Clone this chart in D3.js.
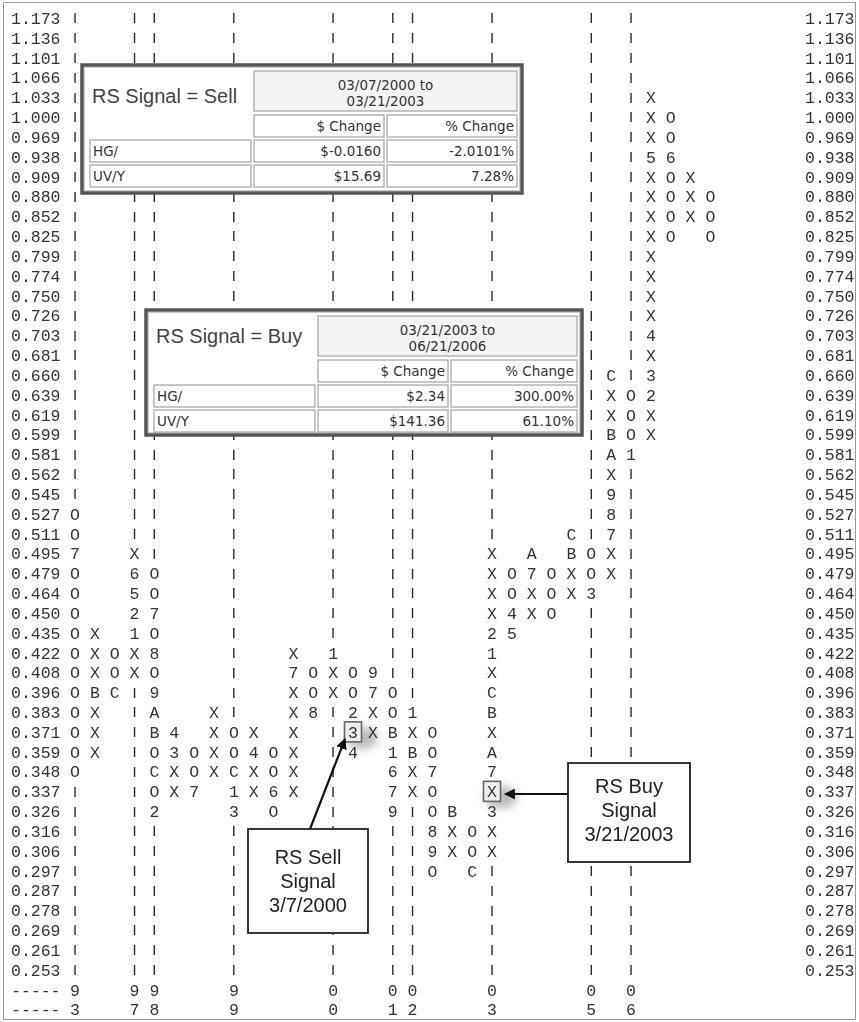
<!DOCTYPE html>
<html>
<head>
<meta charset="utf-8">
<style>
  body { margin: 0; background: #fff; }
  #graph { filter: grayscale(100%); }
  svg text { font-family: "Liberation Mono", "Courier New", monospace; fill: #333; }
  .tbl text { font-family: "DejaVu Sans", Verdana, sans-serif; fill: #333; font-size: 13.5px; }
  .tbl text.title { font-family: "Liberation Sans", Arial, sans-serif; font-size: 20px; fill: #444; }
  .call text { font-family: "Liberation Sans", Arial, sans-serif; font-size: 20px; fill: #222; }
</style>
</head>
<body>
<svg id="graph"></svg>
<script src="https://cdn.jsdelivr.net/npm/d3@7/dist/d3.min.js"></script>
<script>

// price boxes, top to bottom
var prices = ["1.173","1.136","1.101","1.066","1.033","1.000","0.969","0.938","0.909","0.880",
  "0.852","0.825","0.799","0.774","0.750","0.726","0.703","0.681","0.660","0.639",
  "0.619","0.599","0.581","0.562","0.545","0.527","0.511","0.495","0.479","0.464",
  "0.450","0.435","0.422","0.408","0.396","0.383","0.371","0.359","0.348","0.337",
  "0.326","0.316","0.306","0.297","0.287","0.278","0.269","0.261","0.253"];

// columns of the point & figure chart: first box and the marks going down
var columns = [
  {col: 0,  top: "0.527", marks: "OO7OOOOOOOOOOO"},
  {col: 1,  top: "0.435", marks: "XXXBXXX"},
  {col: 2,  top: "0.422", marks: "OOC"},
  {col: 3,  top: "0.495", marks: "X6521XX"},
  {col: 4,  top: "0.479", marks: "OO7O8O9ABOCO2"},
  {col: 5,  top: "0.371", marks: "43XX"},
  {col: 6,  top: "0.359", marks: "OO7"},
  {col: 7,  top: "0.383", marks: "XXXX"},
  {col: 8,  top: "0.371", marks: "OOC13"},
  {col: 9,  top: "0.371", marks: "X4XX"},
  {col: 10, top: "0.359", marks: "OO6O"},
  {col: 11, top: "0.422", marks: "X7XXXXXX"},
  {col: 12, top: "0.408", marks: "OO8"},
  {col: 13, top: "0.422", marks: "1XX"},
  {col: 14, top: "0.408", marks: "OO234"},
  {col: 15, top: "0.408", marks: "97XX"},
  {col: 16, top: "0.396", marks: "OOB1679"},
  {col: 17, top: "0.383", marks: "1XBXX"},
  {col: 18, top: "0.371", marks: "OO7OO89O"},
  {col: 19, top: "0.326", marks: "BXX"},
  {col: 20, top: "0.316", marks: "OOC"},
  {col: 21, top: "0.495", marks: "XXXX21XCBXA7X3XX"},
  {col: 22, top: "0.479", marks: "OO45"},
  {col: 23, top: "0.495", marks: "A7XX"},
  {col: 24, top: "0.479", marks: "OOO"},
  {col: 25, top: "0.511", marks: "CBXX"},
  {col: 26, top: "0.495", marks: "OO3"},
  {col: 27, top: "0.660", marks: "CXXBAX987XX"},
  {col: 28, top: "0.639", marks: "OOO1"},
  {col: 29, top: "1.033", marks: "XXX5XXXXXXXX4X32XX"},
  {col: 30, top: "1.000", marks: "OO6OOOO"},
  {col: 31, top: "0.909", marks: "XXX"},
  {col: 32, top: "0.880", marks: "OOO"}
];

// columns where a new year starts, with the two year digits
var yearCols   = [0, 3, 4, 8, 13, 16, 17, 21, 26, 28];
var yearTens   = ["9","9","9","9","0","0","0","0","0","0"];
var yearUnits  = ["3","7","8","9","0","1","2","3","5","6"];

// relative strength signal boxes
var signals = [{col: 14, price: "0.371"}, {col: 21, price: "0.337"}];

// signal tables
var sellTitle  = "RS Signal = Sell";
var sellPeriod = ["03/07/2000 to", "03/21/2003"];
var sellRows   = [["HG/", "$-0.0160", "-2.0101%"], ["UV/Y", "$15.69", "7.28%"]];
var buyTitle   = "RS Signal = Buy";
var buyPeriod  = ["03/21/2003 to", "06/21/2006"];
var buyRows    = [["HG/", "$2.34", "300.00%"], ["UV/Y", "$141.36", "61.10%"]];
var changeHeads = ["$ Change", "% Change"];

var sellNote = ["RS Sell", "Signal", "3/7/2000"];
var buyNote  = ["RS Buy", "Signal", "3/21/2003"];

var W = 859, H = 1022;
var svg = d3.select('#graph').attr('width', W).attr('height', H);

var defs = svg.append('defs');
var blur = defs.append('filter').attr('id', 'glow').attr('x', '-100%').attr('y', '-100%').attr('width', '300%').attr('height', '300%');
blur.append('feGaussianBlur').attr('stdDeviation', 4);
var arrow = defs.append('marker')
	.attr('id', 'head').attr('viewBox', '0 0 10 10')
	.attr('refX', 9).attr('refY', 5)
	.attr('markerWidth', 5).attr('markerHeight', 5)
	.attr('markerUnits', 'strokeWidth')
	.attr('orient', 'auto');
arrow.append('path').attr('d', 'M0,0 L10,5 L0,10 Z').attr('fill', '#111');

var rows = prices.concat(["yr1", "yr2"]);
var x = d3.scaleLinear().domain([0, 28]).range([75, 631]);
var y = d3.scalePoint().domain(rows).range([18, 1009.5]);

// outer frame
svg.append('rect')
	.attr('x', 3.5).attr('y', 2.5).attr('width', 852).attr('height', 1017)
	.attr('fill', 'none').attr('stroke', '#999').attr('stroke-width', 1);

// price labels both sides
svg.append('g').selectAll('text').data(prices).enter().append('text')
	.attr('x', 11).attr('y', d => y(d)).attr('dy', '0.36em')
	.style('font-size', '16.5px')
	.text(d => d);
svg.append('g').selectAll('text').data(prices).enter().append('text')
	.attr('x', 805).attr('y', d => y(d)).attr('dy', '0.36em')
	.style('font-size', '16.5px')
	.text(d => d);

// cells
var cells = [];
columns.forEach(function(c) {
	var start = prices.indexOf(c.top);
	c.marks.split('').forEach(function(m, i) {
		cells.push({col: c.col, price: prices[start + i], mark: m});
	});
});
var filled = new Set(cells.map(d => d.col + ':' + d.price));
var bars = [];
yearCols.forEach(function(col) {
	prices.forEach(function(p) {
		if (!filled.has(col + ':' + p)) bars.push({col: col, price: p});
	});
});

// signal box highlights
var sig = svg.append('g').selectAll('g').data(signals).enter().append('g')
	.attr('transform', d => 'translate(' + x(d.col) + ',' + y(d.price) + ')');
sig.append('ellipse')
	.attr('cx', 9).attr('cy', 6).attr('rx', 16).attr('ry', 11)
	.attr('fill', '#bbb').attr('filter', 'url(#glow)');
sig.append('rect')
	.attr('x', -8.5).attr('y', -10).attr('width', 17).attr('height', 20)
	.attr('fill', '#eee').attr('stroke', '#666').attr('stroke-width', 1.6);

// year separators: a bar in every empty box of a year column
svg.append('g').selectAll('text').data(bars).enter().append('text')
	.attr('x', d => x(d.col)).attr('y', d => y(d.price)).attr('dy', '0.3em')
	.attr('text-anchor', 'middle')
	.style('font-size', '11px').style('font-weight', 'bold').style('fill', '#2a2a2a')
	.text('|');

svg.append('g').selectAll('text').data(cells).enter().append('text')
	.attr('x', d => x(d.col)).attr('y', d => y(d.price)).attr('dy', '0.36em')
	.attr('text-anchor', 'middle')
	.style('font-size', '16.5px')
	.text(d => d.mark);

// year rows
["yr1", "yr2"].forEach(function(r, k) {
	var g = svg.append('g');
	g.append('text').attr('x', 11).attr('y', y(r)).attr('dy', '0.36em')
		.style('font-size', '16.5px').text('-----');
	g.selectAll('text.yr').data(yearCols).enter().append('text')
		.attr('class', 'yr')
		.attr('x', d => x(d)).attr('y', y(r)).attr('dy', '0.36em')
		.attr('text-anchor', 'middle').style('font-size', '16.5px')
		.text((d, i) => (k == 0 ? yearTens : yearUnits)[i]);
});

// signal tables
function table(ox, oy, w, h, titleY, title, period, data) {
	var g = svg.append('g').attr('class', 'tbl').attr('transform', 'translate(' + ox + ',' + oy + ')');
	g.append('rect').attr('width', w).attr('height', h)
		.attr('fill', '#fff').attr('stroke', '#555').attr('stroke-width', 3.5);
	g.append('rect').attr('x', 2.5).attr('y', 2.5).attr('width', w - 5).attr('height', h - 5)
		.attr('fill', 'none').attr('stroke', '#ccc').attr('stroke-width', 1);
	g.append('text').attr('class', 'title').attr('x', 10).attr('y', titleY).text(title);

	var c0 = 172, c1 = 302, c2 = 305, c3 = w - 5;
	function cell(x0, y0, x1, y1, fill) {
		g.append('rect').attr('x', x0).attr('y', y0).attr('width', x1 - x0).attr('height', y1 - y0)
			.attr('fill', fill || '#fff').attr('stroke', '#aaa').attr('stroke-width', 1.3);
	}
	cell(c0, 6, c3, 46, '#f3f3f3');
	g.selectAll('text.per').data(period).enter().append('text')
		.attr('class', 'per')
		.attr('x', (c0 + c3) / 2).attr('y', (d, i) => 25 + i * 16)
		.attr('text-anchor', 'middle').text(d => d);
	cell(c0, 50, c1, 72); cell(c2, 50, c3, 72);
	g.append('text').attr('x', c1 - 3).attr('y', 66).attr('text-anchor', 'end').text(changeHeads[0]);
	g.append('text').attr('x', c3 - 3).attr('y', 66).attr('text-anchor', 'end').text(changeHeads[1]);
	data.forEach(function(r, i) {
		var y0 = 75 + i * 25, y1 = y0 + 22;
		cell(8, y0, c0 - 3, y1); cell(c0, y0, c1, y1); cell(c2, y0, c3, y1);
		g.append('text').attr('x', 11).attr('y', y0 + 16).text(r[0]);
		g.append('text').attr('x', c1 - 3).attr('y', y0 + 16).attr('text-anchor', 'end').text(r[1]);
		g.append('text').attr('x', c3 - 3).attr('y', y0 + 16).attr('text-anchor', 'end').text(r[2]);
	});
}
table(82, 65, 440, 128, 38, sellTitle, sellPeriod, sellRows);
table(146, 310, 436, 125, 33, buyTitle, buyPeriod, buyRows);

// callouts
function callout(bx, by, bw, bh, lines, firstY, x1, y1, x2, y2) {
	var g = svg.append('g').attr('class', 'call');
	g.append('line').attr('x1', x1).attr('y1', y1).attr('x2', x2).attr('y2', y2)
		.attr('stroke', '#111').attr('stroke-width', 2.2).attr('marker-end', 'url(#head)');
	g.append('rect').attr('x', bx).attr('y', by).attr('width', bw).attr('height', bh)
		.attr('fill', '#fff').attr('stroke', '#222').attr('stroke-width', 1.8);
	g.selectAll('text').data(lines).enter().append('text')
		.attr('x', bx + bw / 2).attr('y', (d, i) => firstY + i * 24)
		.attr('text-anchor', 'middle').text(d => d);
}
callout(248, 829, 120, 104, sellNote, 864, 310, 829, 345, 739);
callout(568, 763, 122, 99, buyNote, 793, 568, 794, 505, 794);

</script>
</body>
</html>
